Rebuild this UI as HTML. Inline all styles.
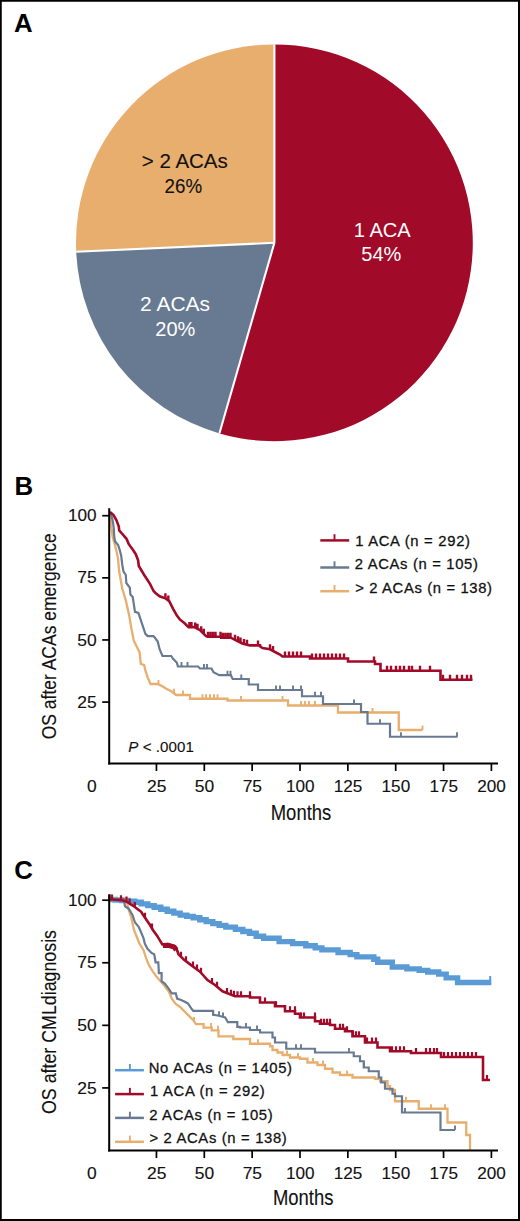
<!DOCTYPE html><html><head><meta charset="utf-8"><title>Figure</title><style>html,body{margin:0;padding:0;background:#fff;overflow:hidden}svg{display:block}text{font-family:"Liberation Sans",sans-serif}</style></head><body>
<svg width="520" height="1221" viewBox="0 0 520 1221">
<rect x="0" y="0" width="520" height="1221" fill="#fff"/>
<path d="M274.4,242.8 L274.40,44.40 A198.4,198.4 0 1 1 219.38,433.42 Z" fill="#A20A29"/>
<path d="M274.4,242.8 L219.38,433.42 A198.4,198.4 0 0 1 76.20,251.80 Z" fill="#687A92"/>
<path d="M274.4,242.8 L76.20,251.80 A198.4,198.4 0 0 1 274.40,44.40 Z" fill="#E8AE6E"/>
<line x1="274.4" y1="242.8" x2="274.40" y2="44.40" stroke="#fff" stroke-width="2.1"/>
<line x1="274.4" y1="242.8" x2="219.38" y2="433.42" stroke="#fff" stroke-width="2.1"/>
<line x1="274.4" y1="242.8" x2="76.20" y2="251.80" stroke="#fff" stroke-width="2.1"/>
<text x="184.8" y="168.3" font-size="19.8" fill="#111111" text-anchor="middle" textLength="86" lengthAdjust="spacingAndGlyphs" stroke="#111111" stroke-width="0.12">&gt; 2 ACAs</text>
<text x="183.3" y="192.7" font-size="19.8" fill="#111111" text-anchor="middle" textLength="37.5" lengthAdjust="spacingAndGlyphs" stroke="#111111" stroke-width="0.12">26%</text>
<text x="382.3" y="236.5" font-size="19.8" fill="#fff" text-anchor="middle" textLength="57" lengthAdjust="spacingAndGlyphs">1 ACA</text>
<text x="381.3" y="261.2" font-size="19.8" fill="#fff" text-anchor="middle" textLength="40" lengthAdjust="spacingAndGlyphs">54%</text>
<text x="175.1" y="311" font-size="19.8" fill="#fff" text-anchor="middle" textLength="70" lengthAdjust="spacingAndGlyphs">2 ACAs</text>
<text x="175.3" y="335.5" font-size="19.8" fill="#fff" text-anchor="middle" textLength="40" lengthAdjust="spacingAndGlyphs">20%</text>
<text x="14" y="32.3" font-size="25.8" font-weight="bold" fill="#000">A</text>
<text x="14.5" y="495" font-size="25.8" font-weight="bold" fill="#000">B</text>
<text x="14.3" y="879" font-size="25.8" font-weight="bold" fill="#000">C</text>
<path d="M110.2,512.7 L111.5,528.1 L112.7,537.3 L115,545 L116.5,551.2 L118.1,558.8 L118.4,563 L119.2,571.5 L122.3,588.8 L125.8,600.4 L129.2,615.4 L131.5,629.2 L133.8,640.7 L137.3,647.7 L139.6,652.3 L140.8,663.8 L144.2,665 L145.4,670.7 L147.7,677.6 L150.6,684 H157.5 L162.5,686.25 L166.25,688.75 L171.25,691.25 L176.25,695 H190 V698.75 H227.5 V700.5 H288 V705.5 H338 V712.5 H398.75 V730 H422.5" fill="none" stroke="#E8AE6E" stroke-width="2.3" stroke-linejoin="miter" stroke-linecap="butt"/>
<path d="M158.50,684.45v-4.5 M174.00,693.31v-4.5 M183.00,695.00v-4.5 M202.50,698.75v-4.5 M206.00,698.75v-4.5 M210.00,698.75v-4.5 M214.00,698.75v-4.5 M217.50,698.75v-4.5 M241.00,700.50v-4.5 M282.50,700.50v-4.5 M301.00,705.50v-4.5 M305.00,705.50v-4.5 M309.00,705.50v-4.5 M315.00,705.50v-4.5 M372.50,712.50v-4.5 M422.50,730.00v-4.5" fill="none" stroke="#E8AE6E" stroke-width="1.9"/>
<path d="M110.5,512.7 L112.7,520.4 L113.8,528.1 L114.2,535.8 L115,541.2 L118.1,545 L119.6,549.6 L121.2,555.8 L122.3,565 L123.5,571.5 L125.8,575 L126.3,583 L129.8,587.7 L130.4,594.6 L132.7,596.9 L135,611.9 L138.4,613 L145.4,633.8 L147.7,636.1 H153.4 L154.8,637.5 L157.7,641.5 L159.6,649.2 L162.5,656 H171.2 L173.1,658.8 L176.9,662.7 L177.9,666.5 H198 L200,668.5 H211.5 L213.5,672.3 L219.2,675.2 H230.8 L232.7,679 H248.75 V684.5 H258 V690 H302 V696.25 H323 V704 H361 V712 H367.5 V723.75 H390 V736.75 H457.5" fill="none" stroke="#687A92" stroke-width="2.2" stroke-linejoin="miter" stroke-linecap="butt"/>
<path d="M181.50,666.50v-4.5 M187.50,666.50v-4.5 M204.00,668.50v-4.5 M207.00,668.50v-4.5 M227.50,675.20v-4.5 M230.50,675.20v-4.5 M241.30,679.00v-4.5 M276.00,690.00v-4.5 M280.00,690.00v-4.5 M293.00,690.00v-4.5 M301.00,690.00v-4.5 M315.00,696.25v-4.5 M321.00,696.25v-4.5 M354.00,704.00v-4.5 M380.00,723.75v-4.5 M401.00,736.75v-4.5 M457.00,736.75v-4.5" fill="none" stroke="#687A92" stroke-width="1.9"/>
<path d="M110,511.9 L113.5,515 L116.5,520.4 L118.8,526.5 L119.2,530.4 L121.9,533.5 L126.5,538.8 L128.8,544.2 L132.7,549.6 L135.8,554.2 L138.1,560.4 L138.8,566 L144.2,575 L150,583.8 L153.6,591 L155.8,593.4 L159.6,596.3 L165.4,598.3 L169.2,601.2 L173.1,608.8 L176.9,615.6 L179.8,619.4 L184.6,623.3 L188.5,627.1 H194.2 L200,630 L205.8,635.8 L207.7,636.7 H221.2 V637.7 H230.8 L234.6,639.6 L242.3,643.5 L250,645.4 H260 V646.25 L262.5,648 L270,649.25 L275,652 L280,654.5 L282.5,656.5 H310 V658.5 H348 V661.5 H375 V664 H380.5 V670.75 H440.5 V679.8 H472.5" fill="none" stroke="#A20A29" stroke-width="2.6" stroke-linejoin="miter" stroke-linecap="butt"/>
<path d="M165.40,598.30v-5 M168.30,600.51v-5 M189.40,627.10v-5 M191.50,627.10v-5 M195.20,627.60v-5 M197.50,628.75v-5 M201.20,631.20v-5 M203.80,633.80v-5 M208.00,636.70v-5 M210.50,636.70v-5 M213.00,636.70v-5 M215.50,636.70v-5 M220.50,636.70v-5 M223.00,637.70v-5 M225.50,637.70v-5 M228.00,637.70v-5 M230.50,637.70v-5 M235.00,639.80v-5 M238.00,641.32v-5 M240.50,642.59v-5 M244.00,643.92v-5 M247.00,644.66v-5 M258.00,645.40v-5 M270.00,649.25v-5 M273.00,650.90v-5 M285.00,656.50v-5 M289.00,656.50v-5 M293.00,656.50v-5 M297.00,656.50v-5 M301.00,656.50v-5 M312.00,658.50v-5 M316.00,658.50v-5 M320.00,658.50v-5 M324.00,658.50v-5 M328.00,658.50v-5 M332.00,658.50v-5 M336.00,658.50v-5 M340.00,658.50v-5 M344.00,658.50v-5 M374.00,661.50v-5 M387.00,670.75v-5 M391.00,670.75v-5 M396.00,670.75v-5 M400.00,670.75v-5 M404.00,670.75v-5 M409.00,670.75v-5 M412.00,670.75v-5 M420.00,670.75v-5 M430.00,670.75v-5 M443.00,679.80v-5 M450.00,679.80v-5 M457.00,679.80v-5 M462.00,679.80v-5 M467.00,679.80v-5 M471.00,679.80v-5" fill="none" stroke="#A20A29" stroke-width="2.4"/>
<path d="M108.75,899.5 H115.2 V900.0 H121.8 V900.5 H128.2 V901.1 H134.8 V902.3 H141.2 V903.9 H147.8 V905.6 H154.2 V907.3 H160.8 V909.2 H167.2 V911.2 H173.8 V913.1 H180.2 V915.1 H186.8 V916.4 H193.2 V917.7 H199.8 V919.7 H206.2 V921.6 H212.8 V923.6 H219.2 V925.4 H225.8 V927.1 H230.0 V927.1 H235.4 V929.4 H242.8 V931.5 H249.5 V933.2 H256.2 V936.2 H263.6 V938.2 H279.1 V941.6 H292.6 V943.6 H305.8 V945.8 H315.2 V947.9 H321.9 V949.9 H338.1 V952.5 H350.2 V954.6 H356.9 V956.9 H373.8 V959.3 H377.7 V962.3 H392.3 V967 H406.9 V968.9 H419.2 V970.4 H427.7 V972 H438.7 V974.1 H446.2 V977.9 H457.6 V982.5 H491.2" fill="none" stroke="#5B9BD5" stroke-width="5.4" stroke-linejoin="miter" stroke-linecap="butt"/>
<path d="M490.2,985 v-9" stroke="#5B9BD5" stroke-width="2"/>
<path d="M108.75,899 H126 L128.75,910.0 L131.25,917.5 L134.0,930.0 L136.7,936.7 L139.4,943.5 L143.5,950.2 L146.2,958.3 L148.8,965.0 L152.9,971.7 L156.9,977.1 L161.0,981.8 L165.0,986.5 L169.0,991.9 L171.7,998.6 L175.8,1004.0 L179.8,1006.7 L183.8,1010.8 L189.2,1016.1 L193.3,1020.2 L196.0,1024.2 H203.6 V1027.6 H211.7 V1030.3 H218.5 V1036.3 H233.3 V1039 H242.5 H250.0 V1043.75 H260 H270.0 V1046.25 H272.5 V1050.0 H277.5 V1052.5 H282.5 V1055.0 H290.0 V1057.5 H300.0 V1058.75 H307.5 V1062.5 H317.5 V1065.0 H325.0 V1068.75 H332.5 V1072.5 H340.0 V1075.0 H352.5 V1077.5 H365 H375.0 V1078.75 H380.0 V1081.25 H387.5 V1086.25 H390.0 V1090.0 H395.0 V1095.0 V1101.25 H418.75 V1108.75 H447.5 V1122.5 H466.25 V1135 H470 V1150" fill="none" stroke="#E8AE6E" stroke-width="2.3" stroke-linejoin="miter" stroke-linecap="butt"/>
<path d="M194.00,1021.24v-4.5 M211.00,1027.60v-4.5 M218.00,1030.30v-4.5 M258.00,1043.75v-4.5 M287.00,1055.00v-4.5 M298.00,1057.50v-4.5 M313.00,1062.50v-4.5 M323.00,1065.00v-4.5 M347.00,1075.00v-4.5 M406.00,1101.25v-4.5 M431.00,1108.75v-4.5 M445.00,1108.75v-4.5" fill="none" stroke="#E8AE6E" stroke-width="1.9"/>
<path d="M108.75,899 H123.75 L125.0,906.25 L128.75,908.75 L132.5,915.0 L135.0,922.5 L138.5,926.5 L140.1,930.0 L143.5,938.1 L144.8,943.5 L147.5,948.8 L151.5,952.9 L154.2,954.2 L155.6,962.3 H158.3 L158.9,973.1 H161.6 V981.1 L165.0,983.8 L169.0,989.2 L171.7,993.3 H175.8 L177.1,998.6 L181.1,1000.0 L183.8,1001.3 L187.9,1003.4 L191.9,1009.4 L193.3,1010.8 H213.1 V1014.8 L217.8,1015.5 L225.2,1017.5 L227.9,1022.2 H237.3 V1026.9 H240.0 V1027.5 H250.0 V1030.0 H260.0 V1032.5 H270 H272.5 V1037.5 H275.0 V1042.5 H282.5 H286.25 V1048.75 H315 V1052.5 H352 H353.75 V1056.25 H360.0 V1061.25 H363.75 V1067.5 H368.75 V1071.25 H375 H378.75 V1077.5 H381.25 V1082.5 H385.0 V1088.75 H392.5 V1093.75 H395.0 V1096.25 H402 V1112.5 H440.5 V1130 H455" fill="none" stroke="#687A92" stroke-width="2.2" stroke-linejoin="miter" stroke-linecap="butt"/>
<path d="M219.00,1015.82v-4.5 M223.00,1016.91v-4.5 M246.00,1027.50v-4.5 M257.00,1030.00v-4.5 M296.00,1048.75v-4.5 M301.00,1048.75v-4.5 M349.00,1052.50v-4.5 M364.00,1067.50v-4.5 M405.00,1112.50v-4.5 M455.00,1130.00v-4.5" fill="none" stroke="#687A92" stroke-width="1.9"/>
<path d="M108.75,899.3 L121.9,900.3 L126.5,901.5 L130.4,904.2 L134.2,906.5 L138.1,909.5 L141.2,911.8 L142.5,914.0 L150.0,925.0 L152.9,930.0 L156.9,935.4 L162.3,944.5 L167.7,944.0 L174.4,946.2 L177.1,950.2 L178.5,954.2 L183.8,959.6 L189.2,963.6 L194.6,967.7 L200.0,971.7 L207.5,980.0 L215.0,985.0 L222.5,991.25 L235.0,996.25 H250.0 V997.5 H260.0 V1002.5 H275.0 V1006.25 H285.0 V1011.25 H295.0 V1013.75 H300.0 V1017.5 H315.0 V1021.25 H320.0 V1023.75 H330.0 V1025.0 H335.0 V1028.75 H345.0 V1031.25 H352.5 V1036.25 H360 H365.0 V1042.5 H377.5 V1047.5 H390 V1051.25 H411 V1053 H441 V1057 H483 V1080 H490" fill="none" stroke="#A20A29" stroke-width="2.6" stroke-linejoin="miter" stroke-linecap="butt"/>
<path d="M109.50,899.36v-5 M112.00,899.55v-5 M121.00,900.23v-5 M126.50,901.50v-5 M129.60,903.65v-5 M134.80,906.96v-5 M145.00,917.67v-5 M152.00,928.45v-5 M181.00,956.75v-5 M186.00,961.23v-5 M193.00,966.49v-5 M197.00,969.48v-5 M201.00,972.81v-5 M212.00,983.00v-5 M217.00,986.67v-5 M227.00,993.05v-5 M231.00,994.65v-5 M234.00,995.85v-5 M237.50,996.25v-5 M241.00,996.25v-5 M250.00,996.25v-5 M265.00,1002.50v-5 M276.00,1006.25v-5 M290.00,1011.25v-5 M295.00,1011.25v-5 M301.00,1017.50v-5 M304.00,1017.50v-5 M315.00,1017.50v-5 M321.00,1023.75v-5 M324.00,1023.75v-5 M327.00,1023.75v-5 M330.00,1023.75v-5 M340.00,1028.75v-5 M343.00,1028.75v-5 M347.00,1031.25v-5 M353.00,1036.25v-5 M356.00,1036.25v-5 M359.00,1036.25v-5 M367.00,1042.50v-5 M372.00,1042.50v-5 M376.00,1042.50v-5 M392.00,1051.25v-5 M396.00,1051.25v-5 M400.00,1051.25v-5 M404.00,1051.25v-5 M416.00,1053.00v-5 M426.00,1053.00v-5 M430.00,1053.00v-5 M434.00,1053.00v-5 M437.00,1053.00v-5 M444.00,1057.00v-5 M448.00,1057.00v-5 M452.00,1057.00v-5 M456.00,1057.00v-5 M460.00,1057.00v-5 M464.00,1057.00v-5 M468.00,1057.00v-5 M472.00,1057.00v-5 M476.00,1057.00v-5 M487.00,1080.00v-5" fill="none" stroke="#A20A29" stroke-width="2.2"/>
<path d="M162.8,945.6 L167.7,945.2 L174.4,947.2 L176.3,950" fill="none" stroke="#A20A29" stroke-width="5" stroke-linejoin="round"/>
<line x1="109.2" y1="508.2" x2="109.2" y2="764.5" stroke="#000" stroke-width="2"/>
<line x1="108.2" y1="763.5" x2="498" y2="763.5" stroke="#000" stroke-width="2"/>
<line x1="102.2" y1="702.08" x2="109" y2="702.08" stroke="#000" stroke-width="1.7"/>
<text x="96.6" y="707.6750000000001" font-size="16" fill="#111111" text-anchor="end" textLength="19.4" lengthAdjust="spacingAndGlyphs" stroke="#111111" stroke-width="0.12">25</text>
<line x1="102.2" y1="639.95" x2="109" y2="639.95" stroke="#000" stroke-width="1.7"/>
<text x="96.6" y="645.5500000000001" font-size="16" fill="#111111" text-anchor="end" textLength="19.4" lengthAdjust="spacingAndGlyphs" stroke="#111111" stroke-width="0.12">50</text>
<line x1="102.2" y1="577.83" x2="109" y2="577.83" stroke="#000" stroke-width="1.7"/>
<text x="96.6" y="583.4250000000001" font-size="16" fill="#111111" text-anchor="end" textLength="19.4" lengthAdjust="spacingAndGlyphs" stroke="#111111" stroke-width="0.12">75</text>
<line x1="102.2" y1="515.70" x2="109" y2="515.70" stroke="#000" stroke-width="1.7"/>
<text x="96.6" y="521.3000000000001" font-size="16" fill="#111111" text-anchor="end" textLength="28.6" lengthAdjust="spacingAndGlyphs" stroke="#111111" stroke-width="0.12">100</text>
<line x1="156.45" y1="763.5" x2="156.45" y2="771.0" stroke="#000" stroke-width="1.7"/>
<text x="156.64999999999998" y="791.8" font-size="16" fill="#111111" text-anchor="middle" textLength="19.4" lengthAdjust="spacingAndGlyphs" stroke="#111111" stroke-width="0.12">25</text>
<line x1="204.30" y1="763.5" x2="204.30" y2="771.0" stroke="#000" stroke-width="1.7"/>
<text x="204.5" y="791.8" font-size="16" fill="#111111" text-anchor="middle" textLength="19.4" lengthAdjust="spacingAndGlyphs" stroke="#111111" stroke-width="0.12">50</text>
<line x1="252.15" y1="763.5" x2="252.15" y2="771.0" stroke="#000" stroke-width="1.7"/>
<text x="252.34999999999997" y="791.8" font-size="16" fill="#111111" text-anchor="middle" textLength="19.4" lengthAdjust="spacingAndGlyphs" stroke="#111111" stroke-width="0.12">75</text>
<line x1="300.00" y1="763.5" x2="300.00" y2="771.0" stroke="#000" stroke-width="1.7"/>
<text x="300.2" y="791.8" font-size="16" fill="#111111" text-anchor="middle" textLength="28.6" lengthAdjust="spacingAndGlyphs" stroke="#111111" stroke-width="0.12">100</text>
<line x1="347.85" y1="763.5" x2="347.85" y2="771.0" stroke="#000" stroke-width="1.7"/>
<text x="348.05" y="791.8" font-size="16" fill="#111111" text-anchor="middle" textLength="28.6" lengthAdjust="spacingAndGlyphs" stroke="#111111" stroke-width="0.12">125</text>
<line x1="395.70" y1="763.5" x2="395.70" y2="771.0" stroke="#000" stroke-width="1.7"/>
<text x="395.8999999999999" y="791.8" font-size="16" fill="#111111" text-anchor="middle" textLength="28.6" lengthAdjust="spacingAndGlyphs" stroke="#111111" stroke-width="0.12">150</text>
<line x1="443.55" y1="763.5" x2="443.55" y2="771.0" stroke="#000" stroke-width="1.7"/>
<text x="443.74999999999994" y="791.8" font-size="16" fill="#111111" text-anchor="middle" textLength="28.6" lengthAdjust="spacingAndGlyphs" stroke="#111111" stroke-width="0.12">175</text>
<line x1="491.40" y1="763.5" x2="491.40" y2="771.0" stroke="#000" stroke-width="1.7"/>
<text x="491.59999999999997" y="791.8" font-size="16" fill="#111111" text-anchor="middle" textLength="28.6" lengthAdjust="spacingAndGlyphs" stroke="#111111" stroke-width="0.12">200</text>
<text x="91.8" y="791.8" font-size="16" fill="#111111" text-anchor="middle" textLength="9.7" lengthAdjust="spacingAndGlyphs" stroke="#111111" stroke-width="0.12">0</text>
<text x="301" y="819.9" font-size="21.2" fill="#111111" text-anchor="middle" textLength="60.5" lengthAdjust="spacingAndGlyphs" stroke="#111111" stroke-width="0.12">Months</text>
<text transform="translate(56.1,636.3) rotate(-90)" x="0" y="0" font-size="20.6" fill="#111111" stroke="#111111" stroke-width="0.12" text-anchor="middle" textLength="206.0" lengthAdjust="spacingAndGlyphs">OS after ACAs emergence</text>
<line x1="109.2" y1="894.5" x2="109.2" y2="1151.5" stroke="#000" stroke-width="2"/>
<line x1="108.2" y1="1150.5" x2="498" y2="1150.5" stroke="#000" stroke-width="2"/>
<line x1="102.2" y1="1087.92" x2="109" y2="1087.92" stroke="#000" stroke-width="1.7"/>
<text x="96.6" y="1093.5249999999999" font-size="16" fill="#111111" text-anchor="end" textLength="19.4" lengthAdjust="spacingAndGlyphs" stroke="#111111" stroke-width="0.12">25</text>
<line x1="102.2" y1="1025.35" x2="109" y2="1025.35" stroke="#000" stroke-width="1.7"/>
<text x="96.6" y="1030.9499999999998" font-size="16" fill="#111111" text-anchor="end" textLength="19.4" lengthAdjust="spacingAndGlyphs" stroke="#111111" stroke-width="0.12">50</text>
<line x1="102.2" y1="962.77" x2="109" y2="962.77" stroke="#000" stroke-width="1.7"/>
<text x="96.6" y="968.375" font-size="16" fill="#111111" text-anchor="end" textLength="19.4" lengthAdjust="spacingAndGlyphs" stroke="#111111" stroke-width="0.12">75</text>
<line x1="102.2" y1="900.20" x2="109" y2="900.20" stroke="#000" stroke-width="1.7"/>
<text x="96.6" y="905.8000000000001" font-size="16" fill="#111111" text-anchor="end" textLength="28.6" lengthAdjust="spacingAndGlyphs" stroke="#111111" stroke-width="0.12">100</text>
<line x1="156.45" y1="1150.5" x2="156.45" y2="1158.0" stroke="#000" stroke-width="1.7"/>
<text x="156.64999999999998" y="1178.8" font-size="16" fill="#111111" text-anchor="middle" textLength="19.4" lengthAdjust="spacingAndGlyphs" stroke="#111111" stroke-width="0.12">25</text>
<line x1="204.30" y1="1150.5" x2="204.30" y2="1158.0" stroke="#000" stroke-width="1.7"/>
<text x="204.5" y="1178.8" font-size="16" fill="#111111" text-anchor="middle" textLength="19.4" lengthAdjust="spacingAndGlyphs" stroke="#111111" stroke-width="0.12">50</text>
<line x1="252.15" y1="1150.5" x2="252.15" y2="1158.0" stroke="#000" stroke-width="1.7"/>
<text x="252.34999999999997" y="1178.8" font-size="16" fill="#111111" text-anchor="middle" textLength="19.4" lengthAdjust="spacingAndGlyphs" stroke="#111111" stroke-width="0.12">75</text>
<line x1="300.00" y1="1150.5" x2="300.00" y2="1158.0" stroke="#000" stroke-width="1.7"/>
<text x="300.2" y="1178.8" font-size="16" fill="#111111" text-anchor="middle" textLength="28.6" lengthAdjust="spacingAndGlyphs" stroke="#111111" stroke-width="0.12">100</text>
<line x1="347.85" y1="1150.5" x2="347.85" y2="1158.0" stroke="#000" stroke-width="1.7"/>
<text x="348.05" y="1178.8" font-size="16" fill="#111111" text-anchor="middle" textLength="28.6" lengthAdjust="spacingAndGlyphs" stroke="#111111" stroke-width="0.12">125</text>
<line x1="395.70" y1="1150.5" x2="395.70" y2="1158.0" stroke="#000" stroke-width="1.7"/>
<text x="395.8999999999999" y="1178.8" font-size="16" fill="#111111" text-anchor="middle" textLength="28.6" lengthAdjust="spacingAndGlyphs" stroke="#111111" stroke-width="0.12">150</text>
<line x1="443.55" y1="1150.5" x2="443.55" y2="1158.0" stroke="#000" stroke-width="1.7"/>
<text x="443.74999999999994" y="1178.8" font-size="16" fill="#111111" text-anchor="middle" textLength="28.6" lengthAdjust="spacingAndGlyphs" stroke="#111111" stroke-width="0.12">175</text>
<line x1="491.40" y1="1150.5" x2="491.40" y2="1158.0" stroke="#000" stroke-width="1.7"/>
<text x="491.59999999999997" y="1178.8" font-size="16" fill="#111111" text-anchor="middle" textLength="28.6" lengthAdjust="spacingAndGlyphs" stroke="#111111" stroke-width="0.12">200</text>
<text x="91.8" y="1178.8" font-size="16" fill="#111111" text-anchor="middle" textLength="9.7" lengthAdjust="spacingAndGlyphs" stroke="#111111" stroke-width="0.12">0</text>
<text x="303.2" y="1205.3" font-size="21.2" fill="#111111" text-anchor="middle" textLength="60.5" lengthAdjust="spacingAndGlyphs" stroke="#111111" stroke-width="0.12">Months</text>
<text transform="translate(56.1,1022.0) rotate(-90)" x="0" y="0" font-size="20.6" fill="#111111" stroke="#111111" stroke-width="0.12" text-anchor="middle" textLength="184.0" lengthAdjust="spacingAndGlyphs">OS after CMLdiagnosis</text>
<line x1="320.3" y1="540.4" x2="349.2" y2="540.4" stroke="#A20A29" stroke-width="2.5"/>
<line x1="334.5" y1="540.4" x2="334.5" y2="534.1999999999999" stroke="#A20A29" stroke-width="1.9"/>
<text x="355.2" y="545.5" font-size="14.8" fill="#111111" text-anchor="start" textLength="114.8" lengthAdjust="spacing" stroke="#111111" stroke-width="0.28">1 ACA (n = 292)</text>
<line x1="320.3" y1="567.5" x2="349.2" y2="567.5" stroke="#687A92" stroke-width="2.5"/>
<line x1="334.5" y1="567.5" x2="334.5" y2="561.3" stroke="#687A92" stroke-width="1.9"/>
<text x="354.8" y="569.3" font-size="14.8" fill="#111111" text-anchor="start" textLength="123.1" lengthAdjust="spacing" stroke="#111111" stroke-width="0.28">2 ACAs (n = 105)</text>
<line x1="320.3" y1="591.2" x2="349.2" y2="591.2" stroke="#E8AE6E" stroke-width="2.5"/>
<line x1="334.5" y1="591.2" x2="334.5" y2="585.0" stroke="#E8AE6E" stroke-width="1.9"/>
<text x="355.2" y="592.6" font-size="14.8" fill="#111111" text-anchor="start" textLength="136.8" lengthAdjust="spacing" stroke="#111111" stroke-width="0.28">&gt; 2 ACAs (n = 138)</text>
<line x1="115.1" y1="1070.2" x2="143.9" y2="1070.2" stroke="#5B9BD5" stroke-width="2.5"/>
<line x1="129.9" y1="1070.2" x2="129.9" y2="1064.0" stroke="#5B9BD5" stroke-width="1.9"/>
<text x="148.7" y="1072.5" font-size="14.8" fill="#111111" text-anchor="start" textLength="143.3" lengthAdjust="spacing" stroke="#111111" stroke-width="0.28">No ACAs (n = 1405)</text>
<line x1="115.1" y1="1094.1" x2="143.9" y2="1094.1" stroke="#A20A29" stroke-width="2.5"/>
<line x1="129.9" y1="1094.1" x2="129.9" y2="1087.8999999999999" stroke="#A20A29" stroke-width="1.9"/>
<text x="150.0" y="1096.3" font-size="14.8" fill="#111111" text-anchor="start" textLength="114.8" lengthAdjust="spacing" stroke="#111111" stroke-width="0.28">1 ACA (n = 292)</text>
<line x1="115.1" y1="1117.9" x2="143.9" y2="1117.9" stroke="#687A92" stroke-width="2.5"/>
<line x1="129.9" y1="1117.9" x2="129.9" y2="1111.7" stroke="#687A92" stroke-width="1.9"/>
<text x="149.2" y="1119.6" font-size="14.8" fill="#111111" text-anchor="start" textLength="123.5" lengthAdjust="spacing" stroke="#111111" stroke-width="0.28">2 ACAs (n = 105)</text>
<line x1="115.1" y1="1141.8" x2="143.9" y2="1141.8" stroke="#E8AE6E" stroke-width="2.5"/>
<line x1="129.9" y1="1141.8" x2="129.9" y2="1135.6" stroke="#E8AE6E" stroke-width="1.9"/>
<text x="149.5" y="1143.2" font-size="14.8" fill="#111111" text-anchor="start" textLength="137.3" lengthAdjust="spacing" stroke="#111111" stroke-width="0.28">&gt; 2 ACAs (n = 138)</text>
<text x="128.3" y="751.8" font-size="15.1" fill="#111111" stroke="#111111" stroke-width="0.12" textLength="65.5" lengthAdjust="spacing"><tspan font-style="italic">P</tspan> &lt; .0001</text>
<path d="M0,0H520V1221H0Z M1.75,1.75V1219H518V1.75Z" fill="#000" fill-rule="evenodd"/>
</svg></body></html>
